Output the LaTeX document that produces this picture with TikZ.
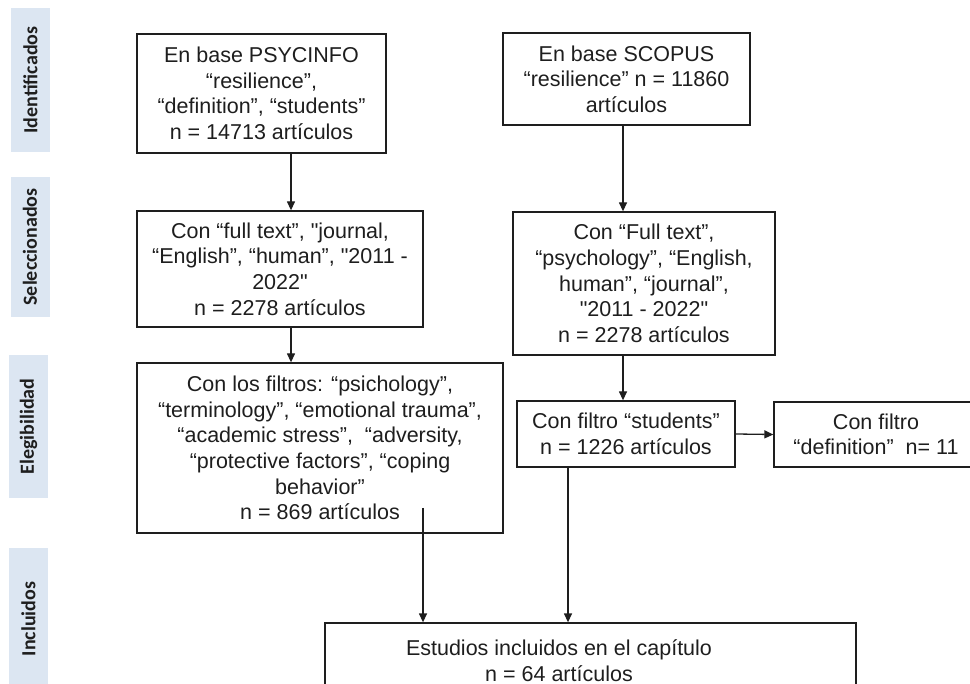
\documentclass[tikz,border=0pt]{standalone}
\usepackage{fontspec}
\setmainfont{Liberation Sans}[Ligatures=TeXOff]
\newfontfamily\stagefont{Carlito}
\usetikzlibrary{arrows.meta}
\definecolor{stagebg}{HTML}{DCE6F2}
\definecolor{ink}{HTML}{1E1E1E}

\begin{document}
\begin{tikzpicture}[x=1pt,y=-1pt,
    box/.style={draw=ink,line width=1.3pt,align=center,inner sep=0pt,text=ink,
      font=\fontsize{21.5}{25.6}\selectfont},
    stage/.style={fill=stagebg,rotate=90,inner sep=0pt,minimum height=39pt,text=ink,
      font=\stagefont\bfseries\fontsize{20}{24}\selectfont},
    arr/.style={draw=ink,line width=1.3pt,-{Triangle[length=9pt,width=8pt]}}]
    \useasboundingbox (0,0) rectangle (970,684);
    \clip (0,0) rectangle (970,684);
    \node[stage,minimum width=144pt] (ident) at (30.5,80) {Identificados};
    \node[stage,minimum width=140pt] (selec) at (30,247) {Seleccionados};
    \node[stage,minimum width=143pt] (elegi) at (28.5,426.5) {Elegibilidad};
    \node[stage,minimum width=142pt] (inclu) at (28.5,619) {Incluidos};
    \node[box,minimum width=249pt,minimum height=119pt] (psyc) at (261.5,93.5)
      {En base PSYCINFO\\“resilience”,\\“definition”, “students”\\n = 14713 artículos};
    \node[box,minimum width=247pt,minimum height=92pt] (scop) at (626.5,79)
      {En base SCOPUS\\“resilience” n = 11860\\artículos};
    \node[box,minimum width=286pt,minimum height=116pt] (psycsel) at (280,269)
      {Con “full text”, "journal,\\“English”, “human”, "2011 -\\2022"\\n = 2278 artículos};
    \node[box,minimum width=262pt,minimum height=143pt] (scopsel) at (644,283.5)
      {Con “Full text”,\\“psychology”, “English,\\human”, “journal”,\\"2011 - 2022"\\n = 2278 artículos};
    \node[box,minimum width=366pt,minimum height=170pt] (psycfil) at (320,448)
      {Con los filtros: “psichology”,\\“terminology”, “emotional trauma”,\\“academic stress”,~ “adversity,\\“protective factors”, “coping\\behavior”\\n = 869 artículos};
    \node[box,minimum width=218pt,minimum height=66pt] (stud) at (626,434)
      {Con filtro “students”\\n = 1226 artículos};
    \node[box,minimum width=204pt,minimum height=65pt] (defi) at (876,434.5)
      {Con filtro\\“definition”~ n= 11};
    \node[box,minimum width=531pt,minimum height=77pt] (incl) at (590.5,661.5) {};
    \node[align=center,text=ink,font=\fontsize{21.5}{25.6}\selectfont] (incltxt) at (559,660.5)
      {Estudios incluidos en el capítulo\\n = 64 artículos};
    \coordinate (fromfil) at (423,508);
    \draw[arr] (psyc.south -| 291,0) -- (psycsel.north -| 291,0);
    \draw[arr] (scop.south -| 623,0) -- (scopsel.north -| 623,0);
    \draw[arr] (psycsel.south -| 291,0) -- (psycfil.north -| 291,0);
    \draw[arr] (scopsel.south -| 623,0) -- (stud.north -| 623,0);
    \draw[arr] (stud.east) -- (defi.west);
    \draw[arr] (fromfil) -- (fromfil |- incl.north);
    \draw[arr] (stud.south -| 568,0) -- (incl.north -| 568,0);
  \end{tikzpicture}
\end{document}
